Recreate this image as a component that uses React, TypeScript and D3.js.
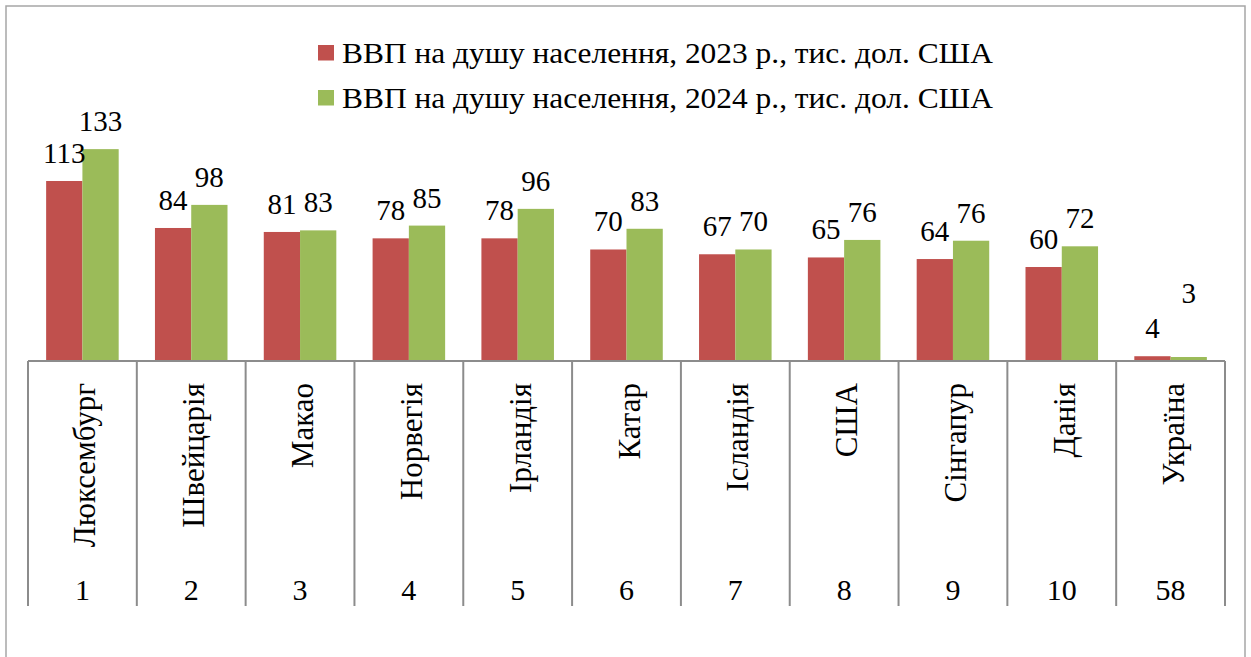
import React from "react";
import * as d3 from "d3";

const countries = ["Люксембург", "Швейцарія", "Макао", "Норвегія", "Ірландія", "Катар", "Ісландія", "США", "Сінгапур", "Данія", "Україна"];
const ranks = ["1", "2", "3", "4", "5", "6", "7", "8", "9", "10", "58"];
const gdp2023 = [113, 84, 81, 78, 78, 70, 67, 65, 64, 60, 4];
const gdp2024 = [133, 98, 83, 85, 96, 83, 70, 76, 76, 72, 3];
const barValues2023 = [113, 83.5, 81, 77, 77, 70, 67, 65, 64, 59, 3];
const barValues2024 = [133, 98, 82, 85, 95.5, 83, 70, 76, 75.5, 72, 2.5];
const seriesNames = [
  "ВВП на душу населення, 2023 р., тис. дол. США",
  "ВВП на душу населення, 2024 р., тис. дол. США",
];

const W = 1251;
const H = 657;
const COLORS = ["#C0504D", "#9BBB59"];
const FONT = "Liberation Serif";
// Ukraine 2024 label sits higher in the original
const LIFT = { series: 1, index: 10, dy: -36 };

export default function App() {
  const left = 28, right = 1225, base = 361;
  const x = d3.scaleBand<string>().domain(countries).range([left, right]).padding(0);
  const y = d3.scaleLinear().domain([0, 140]).range([base, base - 140 * 1.593]);
  const bw = x.bandwidth();
  const sub = d3.scaleBand<string>().domain(["0", "1"]).range([bw / 6, (bw * 5) / 6]).padding(0);
  const series = [barValues2023, barValues2024];
  const labels = [gdp2023, gdp2024];
  const ts = { fontFamily: FONT };

  return (
    <svg width={W} height={H} style={{ position: "absolute", left: 0, top: 0, background: "#fff" }}>
      <rect x={6} y={6} width={1239} height={700} fill="#fff" stroke="#a6a6a6" strokeWidth={1.5} />
      {/* legend */}
      {seriesNames.map((s, i) => (
        <g key={s} transform={`translate(318, ${45 + i * 45})`}>
          <rect x={0} y={0} width={16} height={15.5} fill={COLORS[i]} />
          <text x={24} y={17.7} fontSize={28.5} fill="#000" style={ts} textLength={651} lengthAdjust="spacingAndGlyphs">{s}</text>
        </g>
      ))}
      {/* bars */}
      {series.map((vals, si) => (
        <g key={si}>
          {vals.map((v, i) => (
            <rect key={i} x={(x(countries[i]) || 0) + (sub(String(si)) || 0)} y={y(v)} width={sub.bandwidth()} height={base - y(v)} fill={COLORS[si]} />
          ))}
        </g>
      ))}
      {/* data labels */}
      {series.map((vals, si) => (
        <g key={"l" + si}>
          {vals.map((v, i) => (
            <text key={i} x={(x(countries[i]) || 0) + (sub(String(si)) || 0) + sub.bandwidth() / 2}
              y={y(v) - 18 + (si === LIFT.series && i === LIFT.index ? LIFT.dy : 0)}
              textAnchor="middle" fontSize={29} fill="#000" style={ts}>{labels[si][i]}</text>
          ))}
        </g>
      ))}
      {/* axis */}
      <line x1={left} x2={right} y1={base} y2={base} stroke="#8c8c8c" strokeWidth={2} />
      {d3.range(countries.length + 1).map((i) => {
        const xx = left + i * bw;
        return <line key={i} x1={xx} x2={xx} y1={base} y2={606} stroke="#8c8c8c" strokeWidth={2} />;
      })}
      {countries.map((c, i) => {
        const cx = (x(c) || 0) + bw / 2;
        return (
          <g key={c}>
            <text transform={`translate(${cx + 13}, 383) rotate(-90)`} textAnchor="end" fontSize={31} fill="#000" style={ts}>{c}</text>
            <text x={cx} y={600} textAnchor="middle" fontSize={30} fill="#000" style={ts}>{ranks[i]}</text>
          </g>
        );
      })}
    </svg>
  );
}
